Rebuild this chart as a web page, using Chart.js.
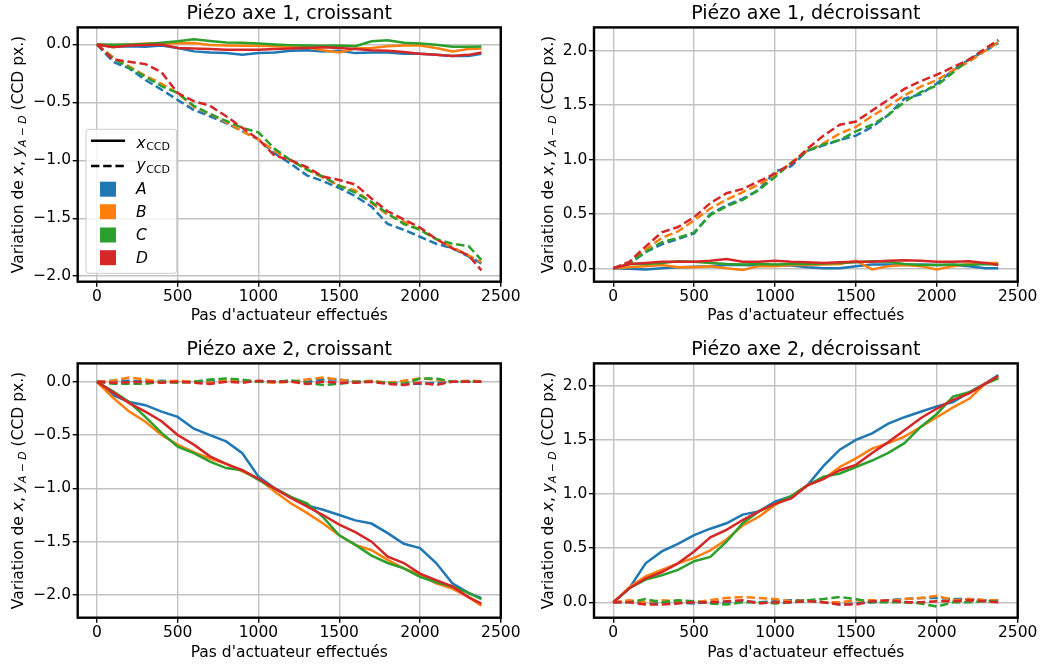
<!DOCTYPE html>
<html><head><meta charset="utf-8">
<script src="https://cdn.jsdelivr.net/npm/chart.js@4/dist/chart.umd.min.js"></script>
<style>
html,body{margin:0;padding:0;background:#fff;width:1043px;height:666px;overflow:hidden}
.p{position:absolute}
canvas{display:block}
</style></head><body>
<div class="p" style="left:0;top:0"><canvas id="c1" width="521" height="333"></canvas></div>
<div class="p" style="left:521px;top:0"><canvas id="c2" width="522" height="333"></canvas></div>
<div class="p" style="left:0;top:336px"><canvas id="c3" width="521" height="330"></canvas></div>
<div class="p" style="left:521px;top:336px"><canvas id="c4" width="522" height="330"></canvas></div>
<script>
// ---------- DATA ----------
const steps = [0,100,200,300,400,500,600,700,800,900,1000,1100,1200,1300,1400,1500,1600,1700,1800,1900,2000,2100,2200,2300,2380];
const xTicks = [0,500,1000,1500,2000,2500];
const yTicksNeg = [-2,-1.5,-1,-0.5,0];
const yTicksPos = [0,0.5,1,1.5,2];
const seriesNames = ['A','B','C','D'];
const titles = ['Piézo axe 1, croissant','Piézo axe 1, décroissant','Piézo axe 2, croissant','Piézo axe 2, décroissant'];
const xLabel = "Pas d'actuateur effectués";

// Panel 1 : Piézo axe 1, croissant
const p1xA = [0,-0.02,-0.015,-0.02,-0.01,-0.03,-0.06,-0.07,-0.075,-0.09,-0.075,-0.07,-0.055,-0.05,-0.06,-0.055,-0.075,-0.07,-0.07,-0.08,-0.08,-0.09,-0.1,-0.1,-0.08];
const p1xB = [0,-0.005,0.0,0.008,0.008,0.01,0.012,-0.005,-0.01,-0.012,-0.012,-0.015,-0.02,-0.025,-0.05,-0.07,-0.035,-0.03,-0.015,-0.01,-0.01,-0.03,-0.06,-0.04,-0.035];
const p1xC = [0,-0.003,0.0,0.003,0.014,0.028,0.045,0.03,0.017,0.014,0.008,0.0,-0.006,-0.01,-0.012,-0.01,-0.015,0.028,0.037,0.014,0.008,-0.003,-0.02,-0.02,-0.018];
const p1xD = [0,-0.025,-0.01,-0.005,0.0,-0.03,-0.035,-0.04,-0.045,-0.045,-0.045,-0.04,-0.035,-0.03,-0.025,-0.03,-0.04,-0.05,-0.055,-0.065,-0.08,-0.09,-0.1,-0.09,-0.07];
const p1yA = [0,-0.15,-0.207,-0.307,-0.39,-0.48,-0.566,-0.62,-0.68,-0.75,-0.82,-0.94,-1.03,-1.13,-1.18,-1.24,-1.31,-1.4,-1.55,-1.6,-1.66,-1.72,-1.76,-1.83,-1.89];
const p1yB = [0,-0.11,-0.19,-0.27,-0.34,-0.42,-0.54,-0.6,-0.67,-0.75,-0.82,-0.92,-1.0,-1.08,-1.15,-1.22,-1.26,-1.37,-1.47,-1.53,-1.6,-1.68,-1.75,-1.82,-1.88];
const p1yC = [0,-0.12,-0.2,-0.28,-0.36,-0.42,-0.53,-0.6,-0.66,-0.72,-0.76,-0.9,-1.0,-1.08,-1.14,-1.22,-1.28,-1.36,-1.46,-1.55,-1.6,-1.68,-1.72,-1.74,-1.86];
const p1yD = [0,-0.13,-0.15,-0.17,-0.24,-0.42,-0.49,-0.53,-0.62,-0.72,-0.82,-0.96,-1.0,-1.06,-1.14,-1.17,-1.21,-1.33,-1.44,-1.51,-1.58,-1.68,-1.76,-1.82,-1.95];

// Panel 2 : Piézo axe 1, décroissant
const p2xA = [0,-0.005,-0.01,0.0,0.01,0.015,0.02,0.03,0.03,0.025,0.03,0.025,0.01,0.0,0.0,0.02,0.035,0.035,0.03,0.035,0.03,0.03,0.02,0.0,0.0];
const p2xB = [0,0.01,0.02,0.03,0.01,0.01,0.02,0.0,-0.015,0.02,0.02,0.03,0.03,0.035,0.04,0.07,-0.01,0.02,0.03,0.02,-0.01,0.02,0.04,0.05,0.05];
const p2xC = [0,0.04,0.04,0.05,0.065,0.06,0.05,0.04,0.035,0.04,0.035,0.04,0.04,0.045,0.05,0.055,0.065,0.06,0.04,0.03,0.03,0.035,0.03,0.04,0.035];
const p2xD = [0,0.04,0.05,0.06,0.06,0.06,0.07,0.085,0.06,0.06,0.07,0.06,0.055,0.05,0.055,0.06,0.06,0.07,0.075,0.07,0.06,0.06,0.065,0.05,0.03];
const p2yA = [0,0.04,0.15,0.22,0.27,0.32,0.5,0.58,0.64,0.72,0.89,0.94,1.08,1.13,1.18,1.22,1.3,1.41,1.56,1.6,1.7,1.82,1.92,2.0,2.07];
const p2yB = [0,0.05,0.17,0.28,0.34,0.44,0.55,0.63,0.7,0.77,0.86,0.97,1.08,1.15,1.24,1.3,1.4,1.49,1.59,1.67,1.73,1.82,1.9,2.0,2.08];
const p2yC = [0,0.05,0.15,0.24,0.28,0.33,0.49,0.57,0.63,0.72,0.84,0.97,1.08,1.14,1.18,1.26,1.32,1.41,1.53,1.62,1.68,1.8,1.92,2.02,2.09];
const p2yD = [0,0.06,0.2,0.33,0.38,0.47,0.6,0.69,0.73,0.8,0.87,0.96,1.1,1.22,1.32,1.35,1.45,1.55,1.65,1.72,1.78,1.85,1.92,2.02,2.1];

// Panel 3 : Piézo axe 2, croissant
const p3xA = [0,-0.125,-0.19,-0.22,-0.28,-0.33,-0.44,-0.5,-0.56,-0.67,-0.89,-1.0,-1.08,-1.16,-1.2,-1.25,-1.3,-1.33,-1.42,-1.52,-1.56,-1.7,-1.89,-1.98,-2.03];
const p3xB = [0,-0.15,-0.28,-0.375,-0.5,-0.59,-0.66,-0.72,-0.77,-0.84,-0.91,-1.03,-1.14,-1.23,-1.33,-1.44,-1.53,-1.58,-1.67,-1.75,-1.81,-1.89,-1.94,-2.02,-2.1];
const p3xC = [0,-0.09,-0.19,-0.33,-0.48,-0.61,-0.67,-0.75,-0.81,-0.83,-0.92,-1.0,-1.08,-1.14,-1.27,-1.44,-1.53,-1.63,-1.7,-1.75,-1.83,-1.88,-1.92,-1.98,-2.04];
const p3xD = [0,-0.1,-0.2,-0.28,-0.37,-0.5,-0.59,-0.7,-0.77,-0.83,-0.91,-1.0,-1.09,-1.17,-1.25,-1.34,-1.41,-1.5,-1.64,-1.7,-1.8,-1.86,-1.92,-2.02,-2.08];
const p3yA = [0,0.01,0.01,0.0,0.01,0.0,0.0,0.01,0.0,0.01,0.0,0.0,0.01,0.0,0.02,0.02,0.0,0.0,-0.01,-0.02,-0.02,-0.01,0.0,0.0,0.0];
const p3yB = [0,0.01,0.04,0.02,0.0,0.01,0.0,-0.01,0.01,0.015,0.0,-0.01,0.0,0.02,0.04,0.02,0.0,0.01,-0.01,0.01,0.03,0.02,0.0,0.01,0.005];
const p3yC = [0,-0.02,-0.02,-0.02,0.0,-0.01,0.0,0.02,0.03,0.02,0.0,0.0,0.01,-0.01,-0.03,-0.02,0.0,0.0,-0.01,-0.02,0.03,0.03,0.0,0.0,0.0];
const p3yD = [0,-0.01,-0.005,0.0,-0.01,0.0,-0.01,-0.02,0.0,-0.01,0.01,0.0,0.0,-0.02,0.0,-0.01,-0.01,0.0,-0.02,-0.03,-0.01,-0.03,0.0,0.0,0.0];

// Panel 4 : Piézo axe 2, décroissant
const p4xA = [0,0.13,0.36,0.47,0.54,0.62,0.68,0.73,0.81,0.84,0.93,0.98,1.08,1.26,1.41,1.5,1.56,1.65,1.71,1.76,1.81,1.85,1.94,2.02,2.1];
const p4xB = [0,0.14,0.24,0.3,0.36,0.41,0.48,0.58,0.71,0.79,0.9,0.98,1.08,1.14,1.25,1.33,1.42,1.47,1.53,1.62,1.71,1.8,1.88,2.02,2.07];
const p4xC = [0,0.13,0.21,0.25,0.3,0.38,0.42,0.56,0.73,0.84,0.91,0.98,1.08,1.16,1.19,1.25,1.31,1.38,1.47,1.62,1.74,1.9,1.94,2.02,2.07];
const p4xD = [0,0.13,0.22,0.28,0.36,0.47,0.6,0.67,0.76,0.84,0.91,0.96,1.08,1.14,1.22,1.27,1.38,1.48,1.59,1.7,1.79,1.87,1.93,2.02,2.09];
const p4yA = [0,0.01,-0.01,0.0,0.0,-0.01,0.0,0.0,0.01,0.0,0.01,0.02,0.02,0.0,-0.02,-0.01,0.0,0.02,0.03,0.04,0.04,0.03,0.03,0.02,0.02];
const p4yB = [0,0.02,0.0,0.02,0.01,0.0,0.02,0.04,0.05,0.04,0.03,0.01,0.02,0.0,0.0,0.02,0.02,0.01,0.03,0.04,0.06,0.02,0.03,0.02,0.02];
const p4yC = [0,0.0,0.03,0.0,0.02,0.01,-0.01,-0.02,0.0,0.0,-0.01,0.0,0.02,0.03,0.05,0.03,0.0,0.0,0.0,-0.01,-0.04,0.0,0.0,0.01,0.01];
const p4yD = [0,0.0,-0.02,-0.02,-0.01,0.0,0.0,0.01,0.02,-0.01,0.0,0.0,0.01,0.0,-0.02,-0.02,0.01,0.02,0.0,0.0,0.01,0.01,0.02,0.01,0.0];

// ---------- STYLE / LAYOUT ----------
const COLORS = ['#1f77b4','#ff7f0e','#2ca02c','#d62728'];
const FAM = '"DejaVu Sans", sans-serif';
const TICK_SIZE = 15.5, LABEL_SIZE = 15.5, TITLE_SIZE = 19;
const LW = 2.5, DASH = [8.4, 3.8];
Chart.defaults.font.family = FAM;
Chart.defaults.color = '#000';

const panels = [
  {id:'c1', title:titles[0], xs:[p1xA,p1xB,p1xC,p1xD], ys:[p1yA,p1yB,p1yC,p1yD], yMin:-2.048, yMax:0.147, yTicks:yTicksNeg, yW:77.7, padR:20, xH:51.3, xTitlePadB:8, yLabOff:54.7, legend:true},
  {id:'c2', title:titles[1], xs:[p2xA,p2xB,p2xC,p2xD], ys:[p2yA,p2yB,p2yC,p2yD], yMin:-0.123, yMax:2.215, yTicks:yTicksPos, yW:73, padR:25.3, xH:51.3, xTitlePadB:8, yLabOff:41.1, legend:false},
  {id:'c3', title:titles[2], xs:[p3xA,p3xB,p3xC,p3xD], ys:[p3yA,p3yB,p3yC,p3yD], yMin:-2.213, yMax:0.172, yTicks:yTicksNeg, yW:77.7, padR:20, xH:48.3, xTitlePadB:4.1, yLabOff:54.7, legend:false},
  {id:'c4', title:titles[3], xs:[p4xA,p4xB,p4xC,p4xD], ys:[p4yA,p4yB,p4yC,p4yD], yMin:-0.142, yMax:2.207, yTicks:yTicksPos, yW:73, padR:25.3, xH:48.3, xTitlePadB:4.1, yLabOff:41.1, legend:false}
];

function fmtY(v){ const a = Math.abs(v).toFixed(1); return (v < -1e-9 ? '\u2212' : '') + a; }

function drawYLabel(ctx, cx, cy){
  const n = `${LABEL_SIZE}px ${FAM}`, it = `italic ${LABEL_SIZE}px ${FAM}`;
  const ss = LABEL_SIZE*0.7, sn = `${ss}px ${FAM}`, si = `italic ${ss}px ${FAM}`;
  const sub = LABEL_SIZE*0.22;
  const parts = [
    {t:'Variation de ', f:n, dy:0},
    {t:'x', f:it, dy:0},
    {t:', ', f:n, dy:0},
    {t:'y', f:it, dy:0},
    {t:'A', f:si, dy:sub},
    {t:' \u2212 ', f:sn, dy:sub},
    {t:'D', f:si, dy:sub},
    {t:' (CCD px.)', f:n, dy:0}
  ];
  ctx.save();
  let total = 0;
  parts.forEach(p => { ctx.font = p.f; p.w = ctx.measureText(p.t).width; total += p.w; });
  ctx.translate(cx, cy);
  ctx.rotate(-Math.PI/2);
  ctx.fillStyle = '#000';
  ctx.textBaseline = 'alphabetic';
  let x = -total/2;
  parts.forEach(p => { ctx.font = p.f; ctx.fillText(p.t, x, p.dy); x += p.w; });
  ctx.restore();
}

function drawLegend(ctx){
  ctx.save();
  const bx = 86, by = 129.3, bw = 90.7, bh = 144, r = 3;
  ctx.beginPath();
  ctx.moveTo(bx+r, by); ctx.lineTo(bx+bw-r, by); ctx.arcTo(bx+bw, by, bx+bw, by+r, r);
  ctx.lineTo(bx+bw, by+bh-r); ctx.arcTo(bx+bw, by+bh, bx+bw-r, by+bh, r);
  ctx.lineTo(bx+r, by+bh); ctx.arcTo(bx, by+bh, bx, by+bh-r, r);
  ctx.lineTo(bx, by+r); ctx.arcTo(bx, by, bx+r, by, r); ctx.closePath();
  ctx.fillStyle = 'rgba(255,255,255,0.8)'; ctx.fill();
  ctx.strokeStyle = '#cccccc'; ctx.lineWidth = 1; ctx.stroke();
  // line handles
  ctx.strokeStyle = '#000'; ctx.lineWidth = LW; ctx.lineCap = 'butt';
  ctx.beginPath(); ctx.moveTo(91, 140.7); ctx.lineTo(125, 140.7); ctx.stroke();
  ctx.setLineDash(DASH);
  ctx.beginPath(); ctx.moveTo(91, 166); ctx.lineTo(125, 166); ctx.stroke();
  ctx.setLineDash([]);
  // patches
  const rows = [189.2, 211.7, 235, 257.7];
  rows.forEach((cy, i) => { ctx.fillStyle = COLORS[i]; ctx.fillRect(100, cy-7.5, 16, 15); });
  // text
  ctx.fillStyle = '#000'; ctx.textBaseline = 'alphabetic';
  const it = `italic 15.5px ${FAM}`, sub = `11px ${FAM}`;
  ctx.font = it; ctx.fillText('x', 136.5, 147.5);
  let w = ctx.measureText('x').width;
  ctx.font = sub; ctx.fillText('CCD', 136.5 + w + 0.5, 150.3);
  ctx.font = it; ctx.fillText('y', 136.5, 170.3);
  w = ctx.measureText('y').width;
  ctx.font = sub; ctx.fillText('CCD', 136.5 + w + 0.5, 173.2);
  ctx.font = it;
  const base = [194.3, 216.7, 240, 262.7];
  seriesNames.forEach((s, i) => ctx.fillText(s, 136, base[i]));
  ctx.restore();
}

const framePlugin = {
  id: 'frame',
  afterDatasetsDraw(chart, args, opts){
    const {ctx, chartArea: a} = chart;
    ctx.save();
    ctx.strokeStyle = '#000'; ctx.lineWidth = 2.4;
    ctx.strokeRect(a.left, a.top, a.right - a.left, a.bottom - a.top);
    ctx.restore();
    drawYLabel(ctx, a.left - opts.yLabOff, (a.top + a.bottom)/2);
    if (opts.legend) drawLegend(ctx);
  }
};

panels.forEach(p => {
  const ds = [];
  for (let i = 0; i < 4; i++) {
    ds.push({
      label: 'x ' + seriesNames[i],
      data: steps.map((s, j) => ({x: s, y: p.xs[i][j]})),
      borderColor: COLORS[i], borderWidth: LW, pointRadius: 0, fill: false, tension: 0
    });
    ds.push({
      label: 'y ' + seriesNames[i],
      data: steps.map((s, j) => ({x: s, y: p.ys[i][j]})),
      borderColor: COLORS[i], borderWidth: LW, borderDash: DASH, pointRadius: 0, fill: false, tension: 0
    });
  }
  ds.reverse();
  const gridOpts = {color:'#c2c2c2', lineWidth:1.4, tickColor:'#000', tickLength:5, tickWidth:1.4, drawTicks:true};
  new Chart(document.getElementById(p.id), {
    type: 'line',
    data: {datasets: ds},
    options: {
      responsive: false, animation: false, devicePixelRatio: 1,
      layout: {padding: {left:0, right:p.padR, top:0, bottom:0}},
      plugins: {
        legend: {display:false}, tooltip: {enabled:false},
        title: {display:true, text:p.title, fullSize:false, color:'#000',
                font:{family:FAM, size:TITLE_SIZE, weight:'normal'}, padding:{top:2.6, bottom:2}},
        frame: {yLabOff: p.yLabOff, legend: p.legend}
      },
      scales: {
        x: {
          type:'linear', min:-119, max:2500,
          afterBuildTicks: s => { s.ticks = xTicks.map(v => ({value:v})); },
          afterFit: s => { s.height = p.xH; },
          ticks: {callback: v => String(v), font:{size:TICK_SIZE}, color:'#000', padding:0.5, maxRotation:0, autoSkip:false},
          grid: gridOpts, border: {display:false},
          title: {display:true, text:xLabel, color:'#000', font:{size:LABEL_SIZE}, padding:{top:0, bottom:p.xTitlePadB}}
        },
        y: {
          type:'linear', min:p.yMin, max:p.yMax,
          afterBuildTicks: s => { s.ticks = p.yTicks.map(v => ({value:v})); },
          afterFit: s => { s.width = p.yW; },
          ticks: {callback: v => fmtY(v), font:{size:TICK_SIZE}, color:'#000', padding:1.7, autoSkip:false},
          grid: gridOpts, border: {display:false}
        }
      }
    },
    plugins: [framePlugin]
  });
});
</script>
</body></html>
